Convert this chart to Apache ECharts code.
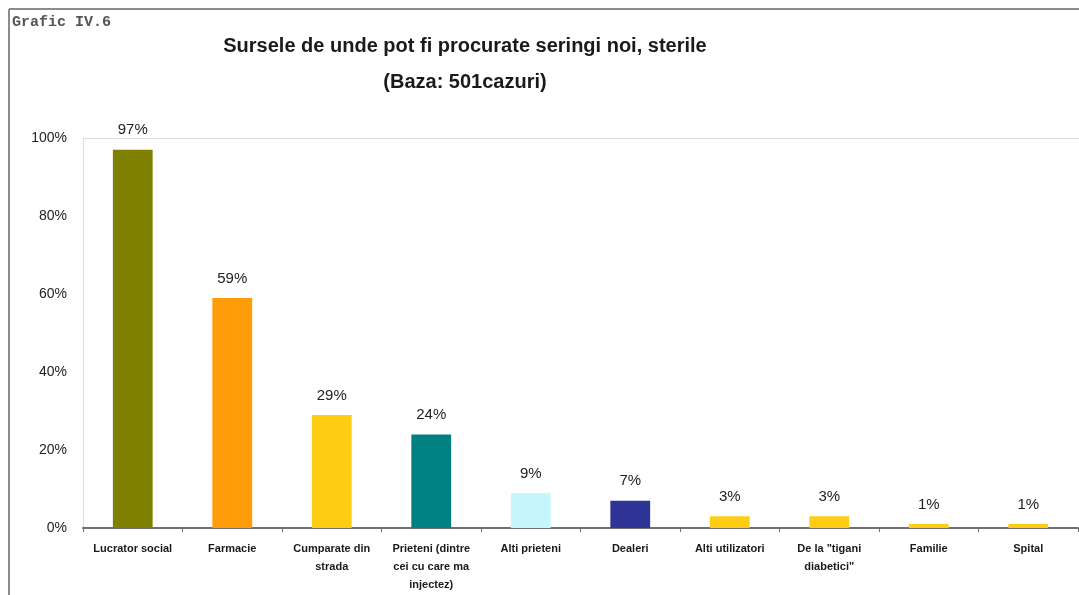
<!DOCTYPE html>
<html>
<head>
<meta charset="utf-8">
<script src="https://cdn.jsdelivr.net/npm/echarts@6/dist/echarts.min.js"></script>
<style>
  html, body { margin: 0; padding: 0; background: #fff; }
  #chart { width: 1079px; height: 595px; }
</style>
</head>
<body>
<div id="chart"></div>
<script>
// Sources of new, sterile syringes (share of 501 cases)
const categories = [
  'Lucrator social',
  'Farmacie',
  'Cumparate din\nstrada',
  'Prieteni (dintre\ncei cu care ma\ninjectez)',
  'Alti prieteni',
  'Dealeri',
  'Alti utilizatori',
  'De la "tigani\ndiabetici"',
  'Familie',
  'Spital'
];
const values = [97, 59, 29, 24, 9, 7, 3, 3, 1, 1];
const barColors = [
  '#808000', '#ff9c0a', '#ffcc14', '#008080', '#c4f6fa',
  '#2d3496', '#ffcc14', '#ffcc14', '#ffcc14', '#ffcc14'
];
const yTicks = [0, 20, 40, 60, 80, 100];

const chart = echarts.init(document.getElementById('chart'), null, { renderer: 'canvas' });

const gridTop = 138;
const gridLeft = 83;

chart.setOption({
  backgroundColor: '#ffffff',
  animation: false,
  title: {
    text: 'Sursele de unde pot fi procurate seringi noi, sterile\n(Baza: 501cazuri)',
    left: 460,
    top: 23,
    textAlign: 'center',
    textStyle: {
      fontFamily: 'Liberation Sans, Arial, sans-serif',
      fontSize: 20,
      fontWeight: 'bold',
      color: '#1a1a1a',
      lineHeight: 36
    }
  },
  graphic: [
    // outer frame: top and left edges
    { type: 'line', shape: { x1: 9, y1: 9, x2: 1079, y2: 9 }, style: { stroke: '#8c8c8c', lineWidth: 2 } },
    { type: 'line', shape: { x1: 9, y1: 9, x2: 9, y2: 595 }, style: { stroke: '#8c8c8c', lineWidth: 2 } },
    // plot area top edge
    { type: 'line', shape: { x1: gridLeft, y1: gridTop + 0.5, x2: 1079, y2: gridTop + 0.5 }, style: { stroke: '#dcdcdc', lineWidth: 1 } },
    {
      type: 'text', left: 12, top: 15,
      style: {
        text: 'Grafic IV.6',
        font: 'bold 15px "Liberation Mono", "DejaVu Sans Mono", monospace',
        fill: '#555'
      }
    }
  ],
  grid: {
    left: gridLeft,
    right: 1,
    top: gridTop,
    bottom: 67,
    containLabel: false
  },
  xAxis: {
    type: 'category',
    data: categories,
    boundaryGap: true,
    axisLine: { show: true, lineStyle: { color: '#707070', width: 2 } },
    axisTick: { show: true, alignWithLabel: false, length: 4, lineStyle: { color: '#707070' } },
    axisLabel: {
      interval: 0,
      margin: 12,
      fontFamily: 'Liberation Sans, Arial, sans-serif',
      fontSize: 11,
      fontWeight: 'bold',
      color: '#1a1a1a',
      lineHeight: 18
    },
    splitLine: { show: false }
  },
  yAxis: {
    type: 'value',
    min: yTicks[0],
    max: yTicks[yTicks.length - 1],
    interval: yTicks[1] - yTicks[0],
    axisLine: { show: true, lineStyle: { color: '#dcdcdc', width: 1 } },
    axisTick: { show: false },
    splitLine: { show: false },
    axisLabel: {
      margin: 16,
      formatter: '{value}%',
      fontFamily: 'Liberation Sans, Arial, sans-serif',
      fontSize: 14,
      color: '#222'
    }
  },
  series: [{
    type: 'bar',
    barWidth: '40%',
    data: values.map((v, i) => ({ value: v, itemStyle: { color: barColors[i] } })),
    label: {
      show: true,
      position: 'top',
      distance: 12,
      formatter: '{c}%',
      fontFamily: 'Liberation Sans, Arial, sans-serif',
      fontSize: 15,
      color: '#222'
    }
  }]
});
</script>
</body>
</html>
